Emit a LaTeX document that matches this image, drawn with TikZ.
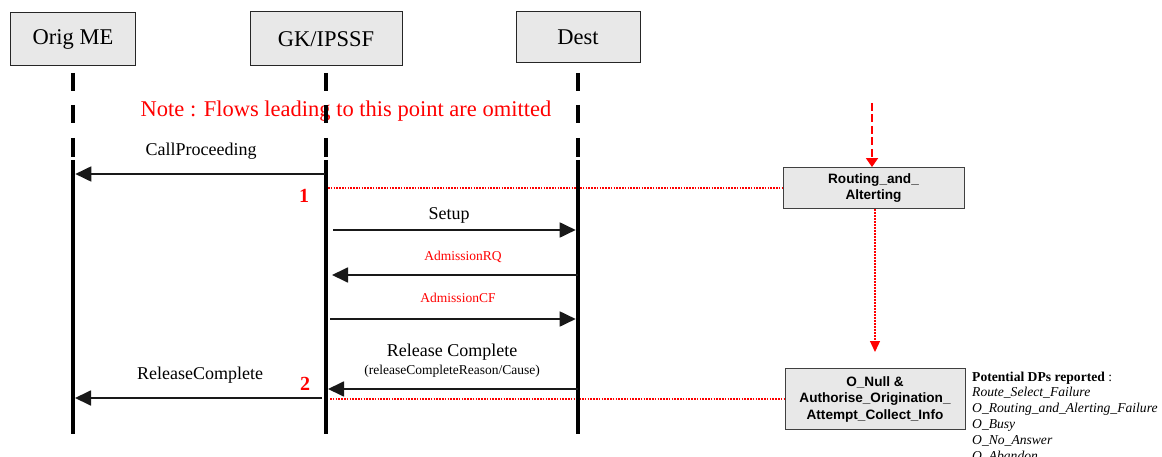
\documentclass[tikz,border=0pt]{standalone}
\usepackage{fontspec}
\setmainfont{Liberation Serif}
\newfontfamily\dpsans{Liberation Sans}
\usetikzlibrary{arrows.meta}

\begin{document}
\begin{tikzpicture}[x=1pt,y=-1pt,
  entity/.style={draw=black!85, line width=1pt, fill=black!9, inner sep=0pt,
    font=\fontsize{22.5}{26}\selectfont},
  lifeline/.style={line width=4.6pt, black, line cap=butt,
    dash pattern=on 18pt off 14pt on 18pt off 15pt on 19pt off 3pt on 300pt off 10pt},
  msg/.style={line width=1.8pt, black!90, -{Triangle[length=16pt,width=15pt]}},
  msglabel/.style={inner sep=0pt, font=\fontsize{18}{21}\selectfont},
  smalllabel/.style={inner sep=0pt, font=\fontsize{13.5}{16}\selectfont},
  redlabel/.style={inner sep=0pt, text=red, font=\fontsize{13.5}{16}\selectfont},
  pointnum/.style={inner sep=0pt, text=red, font=\bfseries\fontsize{20}{24}\selectfont},
  reddot/.style={draw=red, line width=1.5pt, dash pattern=on 1.6pt off 1.2pt},
  reddash/.style={red, line width=1.8pt, dash pattern=on 8pt off 3.5pt,
    -{Triangle[length=9pt,width=12pt]}},
  reddotarrow/.style={red, line width=1.3pt, dash pattern=on 1.8pt off 1.2pt,
    -{Triangle[length=11pt,width=10pt]}},
  dpbox/.style={draw=black!75, line width=0.9pt, fill=black!9, align=center, inner sep=0pt,
    font=\dpsans\bfseries\fontsize{13.6}{16.5}\selectfont},
  dptext/.style={anchor=north west, align=left, inner sep=0pt,
    font=\fontsize{13.6}{15.8}\selectfont}
]
\useasboundingbox (0,0) rectangle (1162,457);

% participants
\node[entity, minimum width=125pt, minimum height=53pt] (orig) at (73,39.5) {Orig ME};
\node[entity, minimum width=152pt, minimum height=54pt] (gk) at (326,39) {GK/IPSSF};
\node[entity, minimum width=124pt, minimum height=51pt] (dest) at (578,37.5) {Dest};

% note over the omitted part of the flow
\node[inner sep=0pt, text=red, font=\fontsize{22.5}{26}\selectfont] (note) at (346,111)
  {Note : Flows leading to this point are omitted};

% message rows
\coordinate (r1) at (0,174);
\coordinate (r2) at (0,230);
\coordinate (r3) at (0,275);
\coordinate (r4) at (0,319);
\coordinate (r5) at (0,389);
\coordinate (r6) at (0,398);

% detection point boxes
\node[dpbox, minimum width=181pt, minimum height=41pt] (rt) at (873.5,188)
  {Routing\_and\_\\Alterting};
\node[dpbox, minimum width=180pt, minimum height=61pt] (nul) at (875,399)
  {O\_Null \&\\Authorise\_Origination\_\\Attempt\_Collect\_Info};

% red markers from the call flow to the detection points
\draw[reddot, shorten <=2pt] (gk |- rt.west) -- (rt.west);
\draw[reddot, shorten <=4pt] (gk |- nul.west) -- (nul.west);

% lifelines
\coordinate (ltop) at (0,73);
\coordinate (lbot) at (0,434);
\foreach \p in {orig,gk,dest}
  \draw[lifeline] (\p |- ltop) -- (\p |- lbot);

\coordinate (topin) at (872,103);
\draw[reddash] (topin) -- (rt.north -| topin);
\coordinate (dpend) at (875,352);
\draw[reddotarrow] (rt.south -| dpend) -- (dpend);

% messages
\draw[msg, shorten <=1pt, shorten >=2.3pt] (gk |- r1) -- (orig |- r1);
\node[msglabel] (lcp) at (201,151) {CallProceeding};

\node[pointnum] (n1) at (304,196) {1};

\draw[msg, shorten <=7pt, shorten >=2.3pt] (gk |- r2) -- (dest |- r2);
\node[msglabel] (lsetup) at (449,215) {Setup};

\draw[msg, shorten >=6pt] (dest |- r3) -- (gk |- r3);
\node[redlabel] (lrq) at (463,257) {AdmissionRQ};

\draw[msg, shorten <=4pt, shorten >=2.3pt] (gk |- r4) -- (dest |- r4);
\node[redlabel] (lcf) at (458,298) {AdmissionCF};

\draw[msg, shorten >=2pt] (dest |- r5) -- (gk |- r5);
\node[msglabel] (lrc) at (452,352) {Release Complete};
\node[smalllabel] (lrcr) at (452,371) {(releaseCompleteReason/Cause)};

\draw[msg, shorten <=4pt, shorten >=2pt] (gk |- r6) -- (orig |- r6);
\node[msglabel] (lrc2) at (200,375) {ReleaseComplete};

\node[pointnum] (n2) at (305,384) {2};

% reported detection points
\node[dptext] (dps) at (972,371.5)
  {\textbf{Potential DPs reported} :\\
   \textit{Route\_Select\_Failure}\\
   \textit{O\_Routing\_and\_Alerting\_Failure}\\
   \textit{O\_Busy}\\
   \textit{O\_No\_Answer}\\
   \textit{O\_Abandon}};
\end{tikzpicture}
\end{document}
